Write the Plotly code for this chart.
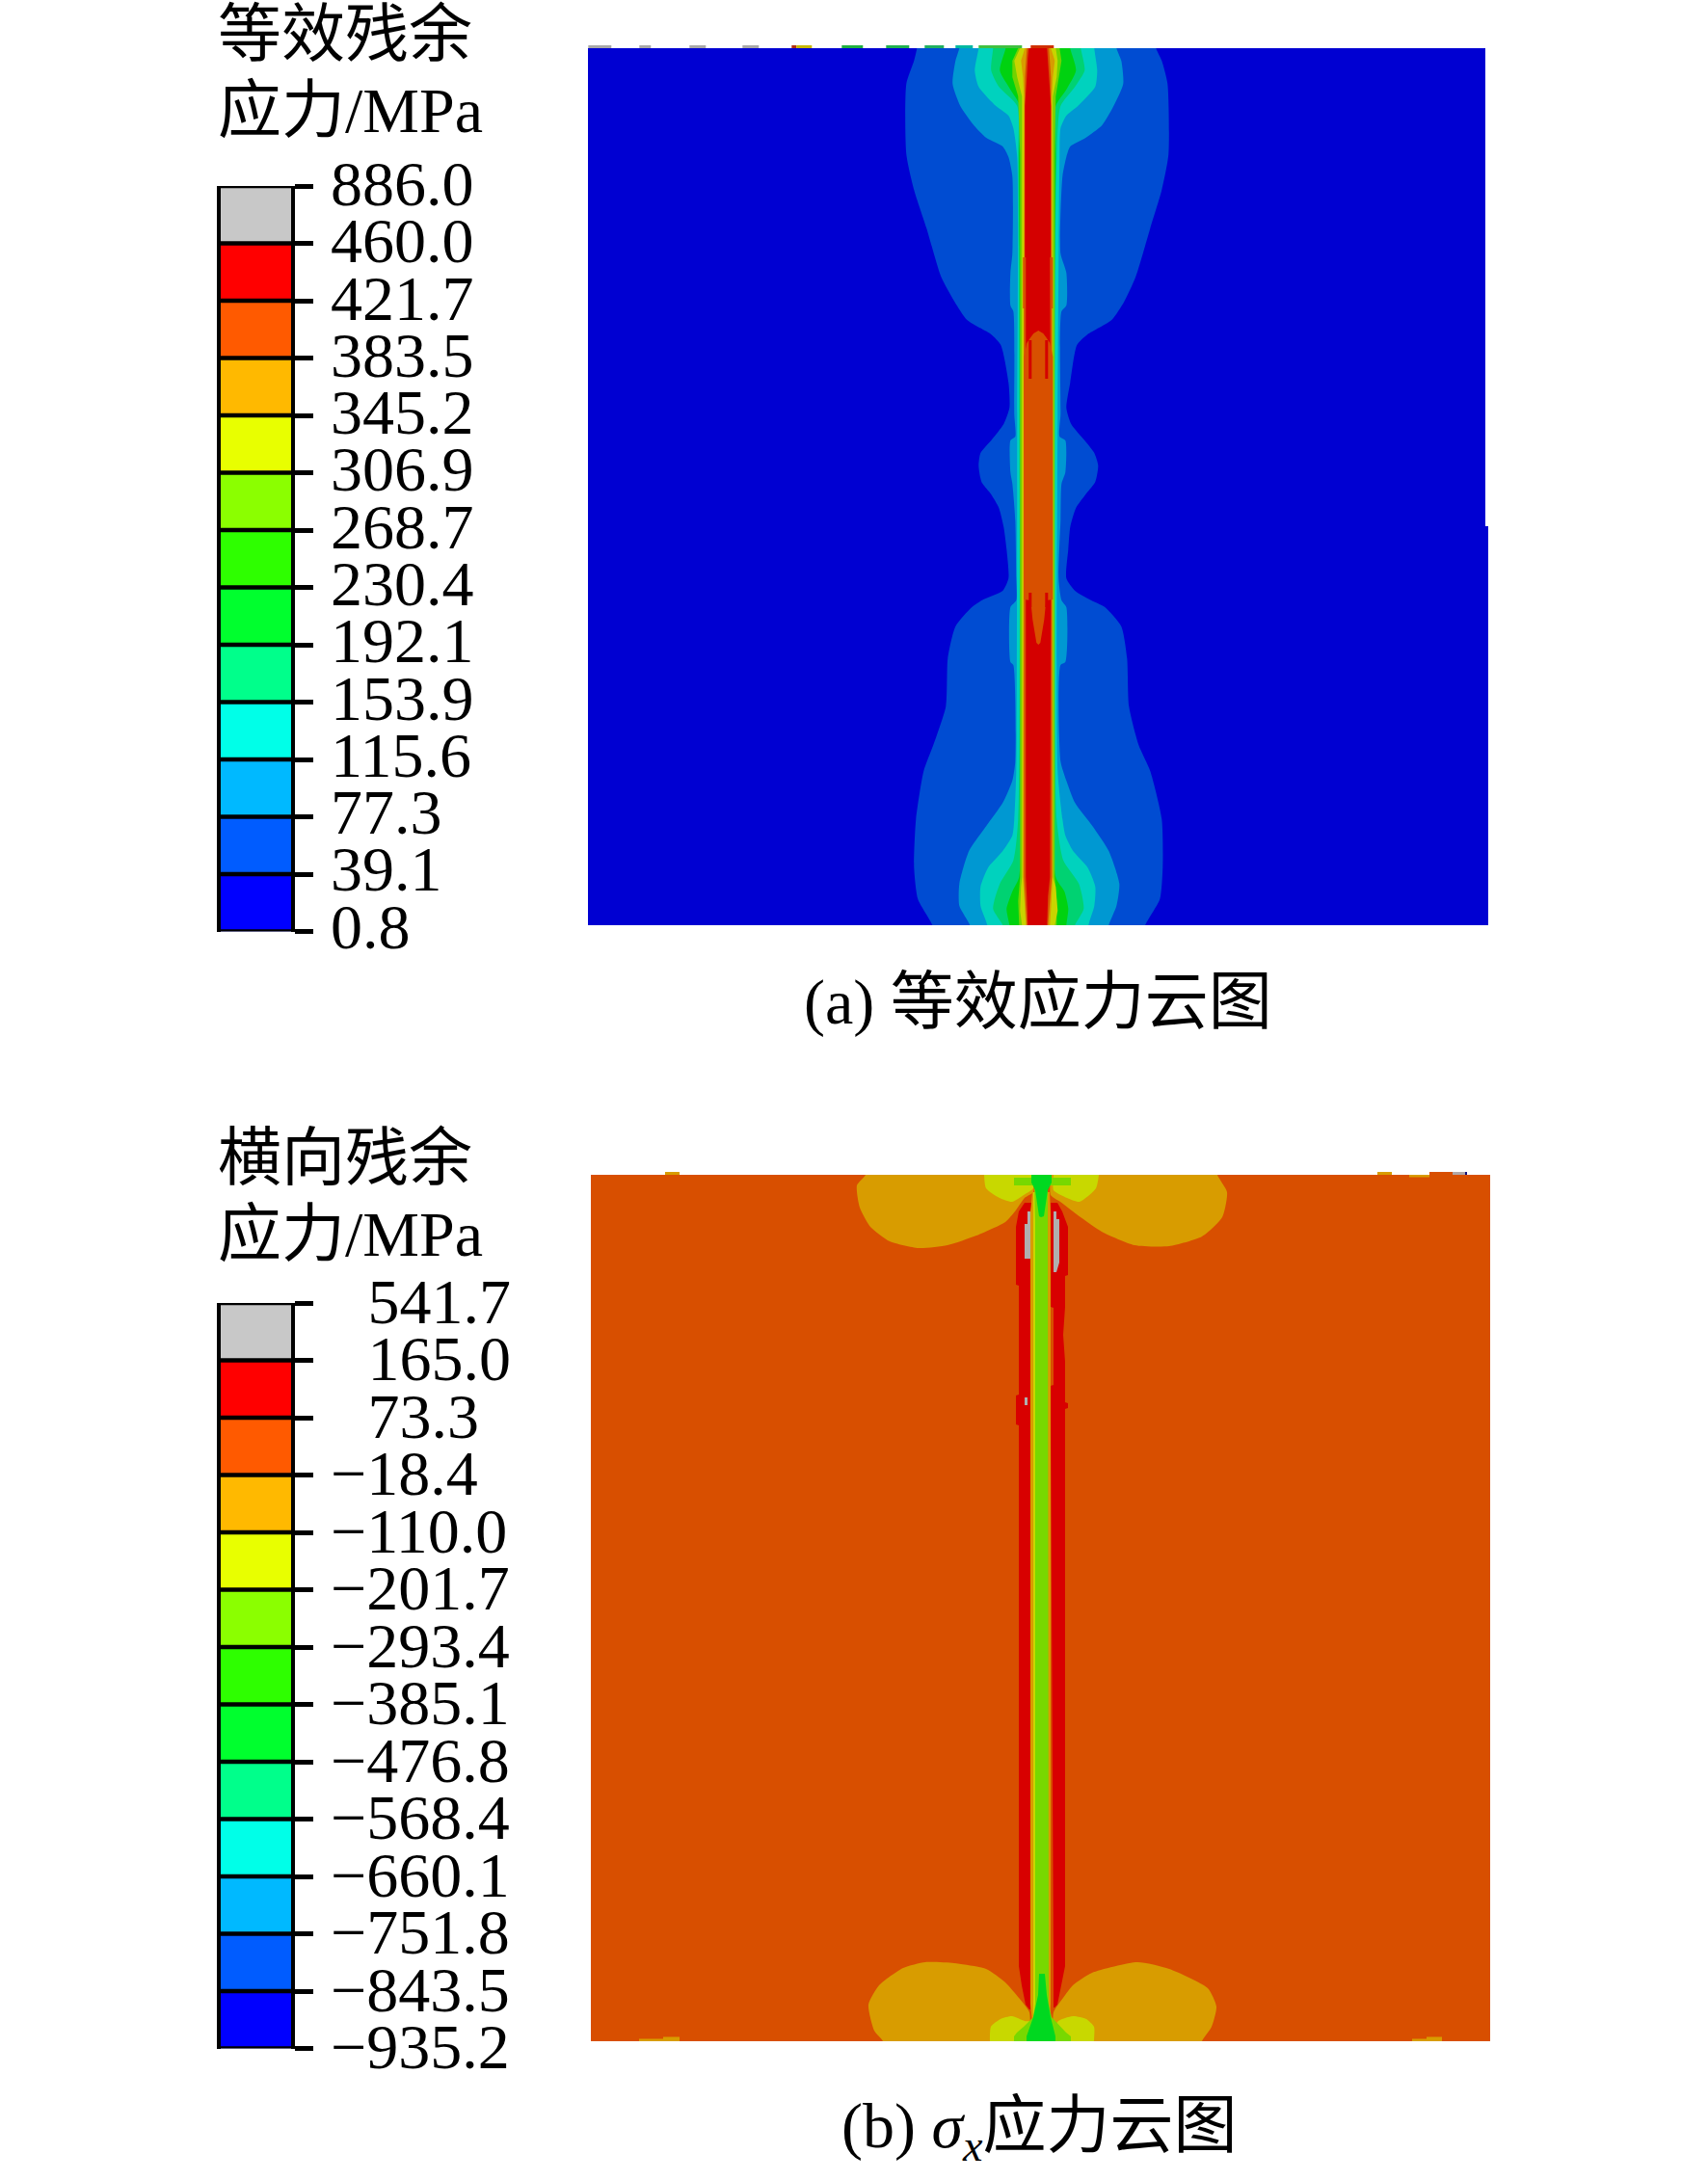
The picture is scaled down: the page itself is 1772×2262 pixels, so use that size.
import plotly.graph_objects as go

W = 1772
H = 2262
FONT = "Liberation Serif, Noto Sans CJK SC"

# legend values, top to bottom
a_ticks = ["886.0", "460.0", "421.7", "383.5", "345.2", "306.9", "268.7", "230.4",
           "192.1", "153.9", "115.6", "77.3", "39.1", "0.8"]
pad = "\u2002\u200a"
b_ticks = [pad + "541.7", pad + "165.0", pad + "73.3", "−18.4", "−110.0", "−201.7", "−293.4",
           "−385.1", "−476.8", "−568.4", "−660.1", "−751.8", "−843.5", "−935.2"]
legend_colors = ["#C8C8C8", "#FF0000", "#FF5A00", "#FFB900", "#E8FF00", "#8BFF00", "#2EFF00",
                 "#00FF2E", "#00FF8B", "#00FFE8", "#00B9FF", "#005CFF", "#0000FF"]
legend_levels = list(range(14))

# panel (a) contour outlines: y from top edge, left/right distance from weld centre
a_base_y = [0, 496, 496, 910]
a_base_l = [-467.3, -467.3, -467.3, -467.3]
a_base_r = [463.7, 463.7, 466.7, 466.7]

a_b1_y = [0, 13, 37, 110, 147, 187, 237, 263, 282, 297, 308, 347, 373, 390, 407, 420, 433, 450,
          463, 477, 497, 520, 550, 563, 572, 580, 600, 633, 683, 723, 750, 800, 850, 883, 910]
a_b1_l = [-126, -129, -137, -137, -129, -116, -101, -87, -74, -49, -39, -31, -30, -36, -49, -60, -62, -59,
          -49, -41, -36, -33, -31, -37, -57, -69, -86, -94, -96, -109, -119, -127, -129, -125, -110]
a_b1_r = [122, 128, 134, 135, 128, 116, 101, 89, 76, 51, 40, 33, 29, 34, 48, 58, 62, 59,
          49, 39, 33, 31, 29, 38, 53, 69, 86, 92, 94, 104, 116, 128, 129, 126, 111]

a_b2_y = [0, 13, 37, 60, 80, 93, 102, 113, 133, 213, 233, 267, 273, 380, 403, 407, 440, 452, 490,
          550, 573, 580, 637, 640, 740, 760, 783, 807, 833, 867, 890, 910]
a_b2_l = [-82, -86, -89, -81, -67, -54, -37, -31, -27, -27, -29, -29, -26, -25, -24, -29, -29, -27, -24,
          -23, -23, -29, -29, -26, -24, -27, -37, -54, -72, -82, -82, -71]
a_b2_r = [81, 86, 88, 78, 66, 49, 33, 29, 25, 23, 29, 29, 24, 23, 22, 28, 28, 24, 23,
          21, 24, 29, 28, 23, 23, 29, 38, 56, 73, 84, 81, 73]

a_b3_y = [0, 23, 40, 60, 70, 83, 113, 380, 750, 800, 817, 833, 850, 870, 890, 910]
a_b3_l = [-62, -66, -62, -44, -31, -26, -22, -22, -23, -25, -27, -37, -52, -60, -60, -53]
a_b3_r = [58, 61, 59, 41, 29, 23, 22, 20, 20, 25, 28, 36, 51, 59, 58, 52]

a_b4_y = [0, 23, 40, 60, 113, 800, 843, 867, 893, 910]
a_b4_l = [-47, -49, -41, -22, -21, -21, -26, -40, -47, -37]
a_b4_r = [44, 48, 38, 23, 19, 19, 26, 42, 47, 38]

a_b5_y = [0, 23, 43, 60, 113, 860, 875, 893, 910]
a_b5_l = [-34, -40, -29, -19, -20, -20, -27, -33, -30]
a_b5_r = [33, 39, 29, 18, 18, 18, 27, 31, 29]

a_b6_y = [0, 13, 30, 50, 110, 860, 885, 910]
a_b6_l = [-21, -27, -27, -21, -19, -19, -21, -20]
a_b6_r = [22, 24, 21, 18, 17, 17, 19, 19]

a_b7_y = [0, 13, 30, 50, 860, 870, 895, 910]
a_b7_l = [-19, -25, -22, -17, -17, -18, -19, -17]
a_b7_r = [18, 20, 19, 15, 15, 18, 20, 17]

a_b8_y = [0, 13, 30, 50, 860, 880, 910]
a_b8_l = [-14, -18, -16, -15, -16, -15, -13]
a_b8_r = [13, 17, 15, 14, 15, 14, 12]

a_b9_y = [0, 30, 217, 217, 270, 270, 860, 910]
a_b9_l = [-12, -14, -14, -16, -16, -15, -15, -12]
a_b9_r = [11, 13, 13, 15, 15, 14, 14, 10]

a_red_y = [0, 10, 30, 60, 217, 217, 570, 860, 880, 910]
a_red_l = [-10, -11, -12, -14, -14, -13, -13, -13, -12, -11]
a_red_r = [9, 10, 11, 13, 13, 12, 13, 12, 10, 9]

a_core_y = [293, 296, 300, 306, 320, 572, 573, 593, 617, 619]
a_core_l = [0, -5, -8, -12, -15, -15, -8, -6, -2, 0]
a_core_r = [0, 5, 8, 12, 15, 15, 8, 6, 2, 0]

a_fin_y = [[303, 343], [303, 343], [565, 580], [565, 580]]
a_fin_l = [-10, 7, -10, 7]
a_fin_r = [-7, 10, -7, 10]

a_stray_start = [-467, -414, -362, -307, -256, -251, -204, -158, -118, -86, -62, -8]
a_stray_end = [-443, -402, -345, -290, -251, -235, -182, -134, -98, -68, -17, 16]
a_stray_color = ["#A8A8A8", "#A8A8A8", "#A8A8A8", "#A8A8A8", "#B03010", "#C8B800", "#20B040",
                 "#20B050", "#20B060", "#00B8A0", "#40C040", "#D03000"]

# panel (b) outlines
b_lobe1_x = [-182, -191, -188, -177, -157, -127, -97, -67, -37, -27, -17, -8, -8]
b_lobe1_y = [0, 11, 34, 54, 69, 76, 73, 63, 49, 38, 24, 18, 0]
b_lobe2_x = [183, 193, 188, 167, 133, 97, 63, 37, 20, 10, 10]
b_lobe2_y = [0, 18, 44, 64, 74, 73, 59, 41, 28, 21, 0]
b_lobe3_x = [-164, -173, -179, -168, -143, -120, -90, -57, -37, -23, -12, -12]
b_lobe3_y = [899, 888, 861, 841, 823, 817, 818, 824, 838, 854, 869, 899]
b_lobe4_x = [167, 177, 182, 173, 133, 100, 53, 33, 23, 13, 13]
b_lobe4_y = [899, 884, 863, 844, 824, 817, 828, 841, 854, 869, 899]

b_yel1_x = [-59, -57, -43, -30, -18, -8, -8]
b_yel1_y = [0, 14, 24, 28, 21, 14, 0]
b_yel2_x = [60, 57, 40, 27, 13, 13]
b_yel2_y = [0, 14, 28, 24, 16, 0]
b_yel3_x = [-53, -52, -42, -30, -17, -8, -8]
b_yel3_y = [899, 884, 876, 873, 878, 879, 899]
b_yel4_x = [55, 55, 47, 33, 17, 17]
b_yel4_y = [899, 884, 876, 873, 879, 899]

b_redl_y = [29, 38, 54, 114, 115, 228, 229, 259, 260, 821, 841, 861, 866]
b_redl_o = [-17, -23, -26, -26, -23, -23, -26, -26, -23, -23, -20, -16, -12]
b_redl_i = [-9, -11, -11, -11, -11, -11, -11, -11, -11, -11, -11, -11, -11]
b_redr_y = [29, 38, 54, 104, 105, 137, 138, 166, 194, 218, 219, 236, 237, 242, 243, 821, 841, 861, 864]
b_redr_i = [10, 10, 10, 10, 10, 10, 13, 13, 13, 13, 10, 10, 10, 10, 10, 13, 13, 13, 13]
b_redr_o = [17, 22, 28, 28, 25, 25, 25, 23, 25, 25, 25, 25, 28, 28, 25, 25, 21, 17, 14]

b_org_y = [18, 40, 860, 880, 899]
b_org_l = [-9, -11, -11, -9, -9]
b_org_r = [9, 10, 10, 9, 9]
b_yst_y = [18, 40, 860, 880, 899]
b_yst_l = [-8, -8, -8, -8, -8]
b_yst_r = [7, 7, 7, 8, 8]
b_gre_y = [10, 48, 860, 874, 884, 890, 894, 899]
b_gre_l = [-7, -6, -6, -8, -18, -25, -28, -28]
b_gre_r = [7, 7, 8, 11, 20, 26, 31, 31]
b_top_y = [3, 3, 11, 11]
b_top_l = [-7, -28, -28, -7]
b_top_r = [7, 31, 31, 7]
b_bri_y = [0, 8, 16, 43, 44]
b_bri_l = [-10, -10, -6, -2, 0]
b_bri_r = [11, 11, 7, 3, 0]
b_bri2_y = [829, 851, 874, 894, 899]
b_bri2_l = [-2, -3, -8, -15, -15]
b_bri2_r = [4, 6, 10, 15, 15]

b_gry_x = [[-14, -11, -11, -14, -17, -17, -14, -14, -17],
           [13, 16, 16, 19, 19, 16, 13],
           [-17, -14, -14, -17]]
b_gry_y = [[38, 38, 87, 87, 87, 51, 51, 38, 38],
           [38, 38, 46, 46, 91, 101, 101],
           [231, 231, 239, 239]]

b_stray_start = [-390, 349, 403, 427, 440]
b_stray_end = [-375, 364, 427, 440, 442]
b_stray_color = ["#D89C00", "#D89C00", "#D84F00", "#B0A8A8", "#101080"]
b_inner_start = [382, -417, -392, 385, 400]
b_inner_end = [403, -375, -375, 416, 416]
b_inner_y = [1, 898, 896, 898, 896]


def poly(xs, ys, color, xa, ya, smooth=False):
    line = dict(width=0)
    if smooth:
        line.update(shape="spline", smoothing=0.6)
    return go.Scatter(x=xs, y=ys, mode="lines", fill="toself", fillcolor=color, line=line,
                      xaxis=xa, yaxis=ya, showlegend=False, hoverinfo="skip")


def strip(ys, ls, rs, color, xa, ya, smooth=False):
    # run past the panel edges so a spline does not round off at the border
    if smooth:
        ys = [ys[0] - 8] + ys + [ys[-1] + 8]
        ls = [ls[0]] + ls + [ls[-1]]
        rs = [rs[0]] + rs + [rs[-1]]
    return poly(ls + rs[::-1], ys + ys[::-1], color, xa, ya, smooth)


def lobe(xs, ys, color, xa, ya, edge):
    xs = [xs[0]] + xs + [xs[-1]]
    ys = [ys[0] + edge] + ys + [ys[-1] + edge]
    return poly(xs, ys, color, xa, ya, True)


def stray(x0, x1, y, color, xa, ya):
    return go.Scatter(x=[x0, x1], y=[y, y], mode="lines", line=dict(color=color, width=3),
                      xaxis=xa, yaxis=ya, showlegend=False, hoverinfo="skip")


def legend_bar(xa, ya):
    return go.Bar(x=[0] * 13, y=[1] * 13, base=legend_levels[:13], width=1,
                  marker=dict(color=legend_colors, line=dict(width=0)),
                  xaxis=xa, yaxis=ya, showlegend=False, hoverinfo="skip")


def legend_rules(xa, ya):
    xs, ys = [], []
    for lv in legend_levels:
        xs += [-0.55, 0.55, None]
        ys += [lv, lv, None]
    return go.Scatter(x=xs, y=ys, mode="lines", line=dict(color="black", width=4.5), cliponaxis=False,
                      xaxis=xa, yaxis=ya, showlegend=False, hoverinfo="skip")


def label_anchor(xa, ya):
    # the tick labels sit on their own axis, a few pixels above the ticks
    return go.Scatter(x=[0], y=[0], mode="markers", marker=dict(opacity=0), xaxis=xa, yaxis=ya,
                      showlegend=False, hoverinfo="skip")


fig = go.Figure()

# (a)
fig.add_trace(legend_bar("x", "y"))
fig.add_trace(legend_rules("x", "y"))
fig.add_trace(label_anchor("x", "y5"))
fig.add_trace(strip(a_base_y, a_base_l, a_base_r, "#0000D2", "x2", "y2"))
smooth_bands = [
    (a_b1_y, a_b1_l, a_b1_r, "#004CD2"),
    (a_b2_y, a_b2_l, a_b2_r, "#0098D2"),
    (a_b3_y, a_b3_l, a_b3_r, "#00D2BE"),
    (a_b4_y, a_b4_l, a_b4_r, "#00D272"),
    (a_b5_y, a_b5_l, a_b5_r, "#00D210"),
]
for ys, ls, rs, c in smooth_bands:
    fig.add_trace(strip(ys, ls, rs, c, "x2", "y2", True))
sharp_bands = [
    (a_b6_y, a_b6_l, a_b6_r, "#72D200"),
    (a_b7_y, a_b7_l, a_b7_r, "#C8D400"),
    (a_b8_y, a_b8_l, a_b8_r, "#D89C00"),
    (a_b9_y, a_b9_l, a_b9_r, "#D85000"),
    (a_red_y, a_red_l, a_red_r, "#D40000"),
    (a_core_y, a_core_l, a_core_r, "#D85000"),
]
for ys, ls, rs, c in sharp_bands:
    fig.add_trace(strip(ys, ls, rs, c, "x2", "y2"))
for ys, l, r in zip(a_fin_y, a_fin_l, a_fin_r):
    fig.add_trace(strip(ys, [l, l], [r, r], "#D40000", "x2", "y2"))
for x0, x1, c in zip(a_stray_start, a_stray_end, a_stray_color):
    fig.add_trace(stray(x0, x1, 1.5, c, "x7", "y7"))

# (b)
fig.add_trace(legend_bar("x3", "y3"))
fig.add_trace(legend_rules("x3", "y3"))
fig.add_trace(label_anchor("x3", "y6"))
fig.add_trace(strip([0, 899], [-467, -467], [466, 466], "#D84F00", "x4", "y4"))
fig.add_trace(lobe(b_lobe1_x, b_lobe1_y, "#D89C00", "x4", "y4", -8))
fig.add_trace(lobe(b_lobe2_x, b_lobe2_y, "#D89C00", "x4", "y4", -8))
fig.add_trace(lobe(b_lobe3_x, b_lobe3_y, "#D89C00", "x4", "y4", 8))
fig.add_trace(lobe(b_lobe4_x, b_lobe4_y, "#D89C00", "x4", "y4", 8))
fig.add_trace(lobe(b_yel1_x, b_yel1_y, "#C8D800", "x4", "y4", -8))
fig.add_trace(lobe(b_yel2_x, b_yel2_y, "#C8D800", "x4", "y4", -8))
fig.add_trace(lobe(b_yel3_x, b_yel3_y, "#C8D800", "x4", "y4", 8))
fig.add_trace(lobe(b_yel4_x, b_yel4_y, "#C8D800", "x4", "y4", 8))
fig.add_trace(strip(b_redl_y, b_redl_o, b_redl_i, "#D80000", "x4", "y4"))
fig.add_trace(strip(b_redr_y, b_redr_i, b_redr_o, "#D80000", "x4", "y4"))
fig.add_trace(strip(b_org_y, b_org_l, b_org_r, "#D89C00", "x4", "y4"))
fig.add_trace(strip(b_yst_y, b_yst_l, b_yst_r, "#C8D800", "x4", "y4"))
fig.add_trace(strip(b_gre_y, b_gre_l, b_gre_r, "#78D800", "x4", "y4"))
fig.add_trace(strip(b_top_y, b_top_l, b_top_r, "#78D800", "x4", "y4"))
fig.add_trace(strip(b_bri_y, b_bri_l, b_bri_r, "#00D820", "x4", "y4"))
fig.add_trace(strip(b_bri2_y, b_bri2_l, b_bri2_r, "#00D820", "x4", "y4"))
for xs, ys in zip(b_gry_x, b_gry_y):
    fig.add_trace(poly(xs, ys, "#B0B0B0", "x4", "y4"))
for x0, x1, c in zip(b_stray_start, b_stray_end, b_stray_color):
    fig.add_trace(stray(x0, x1, 1.5, c, "x8", "y8"))
for x0, x1, y in zip(b_inner_start, b_inner_end, b_inner_y):
    fig.add_trace(stray(x0, x1, y, "#D89C00", "x4", "y4"))


def dom_x(x0, x1):
    return [x0 / W, x1 / W]


def dom_y(y0, y1):
    return [1 - y1 / H, 1 - y0 / H]


def hidden(**kw):
    return dict(visible=False, showgrid=False, zeroline=False, automargin=False, **kw)


def tick_axis(y0, y1, anchor):
    return dict(domain=dom_y(y0, y1), range=[13, 0], side="right", anchor=anchor, automargin=False,
                showgrid=False, zeroline=False, showline=True, mirror=True, linewidth=4, linecolor="black",
                ticks="outside", ticklen=19, tickwidth=4.5, tickcolor="black", tickmode="array",
                tickvals=legend_levels, showticklabels=False)


def label_axis(y0, y1, labels, anchor):
    return dict(domain=dom_y(y0, y1), range=[13, 0], side="right", anchor=anchor, automargin=False,
                showgrid=False, zeroline=False, showline=False, ticks="", tickmode="array",
                tickvals=legend_levels, ticktext=labels,
                tickfont=dict(family=FONT, size=66, color="black"), ticklabelstandoff=40)


def text(x, y, s):
    return dict(x=x / W, y=1 - y / H, xref="paper", yref="paper", text=s, showarrow=False,
                xanchor="left", yanchor="middle", font=dict(family=FONT, size=66, color="black"))


fig.update_layout(
    width=W,
    height=H,
    margin=dict(l=0, r=0, t=0, b=0),
    paper_bgcolor="white",
    plot_bgcolor="rgba(0,0,0,0)",
    barmode="overlay",
    showlegend=False,
    xaxis=hidden(domain=dom_x(229, 302), range=[-0.5, 0.5], anchor="y"),
    yaxis=tick_axis(193, 966.5, "x"),
    xaxis2=hidden(domain=dom_x(610, 1544), range=[-467.3, 466.7], anchor="y2"),
    yaxis2=hidden(domain=dom_y(50, 960), range=[910, 0], anchor="x2"),
    xaxis3=hidden(domain=dom_x(229, 302), range=[-0.5, 0.5], anchor="y3"),
    yaxis3=tick_axis(1352, 2125.5, "x3"),
    xaxis4=hidden(domain=dom_x(613, 1546), range=[-467, 466], anchor="y4"),
    yaxis4=hidden(domain=dom_y(1219, 2118), range=[899, 0], anchor="x4"),
    yaxis5=label_axis(190, 960.5, a_ticks, "x"),
    yaxis6=label_axis(1349.5, 2123, b_ticks, "x3"),
    xaxis7=hidden(domain=dom_x(610, 1544), range=[-467.3, 466.7], anchor="y7"),
    yaxis7=hidden(domain=dom_y(47, 50), range=[3, 0], anchor="x7"),
    xaxis8=hidden(domain=dom_x(613, 1546), range=[-467, 466], anchor="y8"),
    yaxis8=hidden(domain=dom_y(1216, 1219), range=[3, 0], anchor="x8"),
    annotations=[
        text(224, 36, "等效残余"),
        text(224, 115, "应力/MPa"),
        text(832, 1040, "(a) 等效应力云图"),
        text(224, 1201, "横向残余"),
        text(224, 1280, "应力/MPa"),
        text(871, 2210, "(b) <i>σ<sub>x</sub></i>应力云图"),
    ],
)

# the page's default body margin would push the figure 8px in and clip the top line of text
fig.write_html("out.html", config={"displayModeBar": False},
               post_script="document.body.style.margin = '0';")
